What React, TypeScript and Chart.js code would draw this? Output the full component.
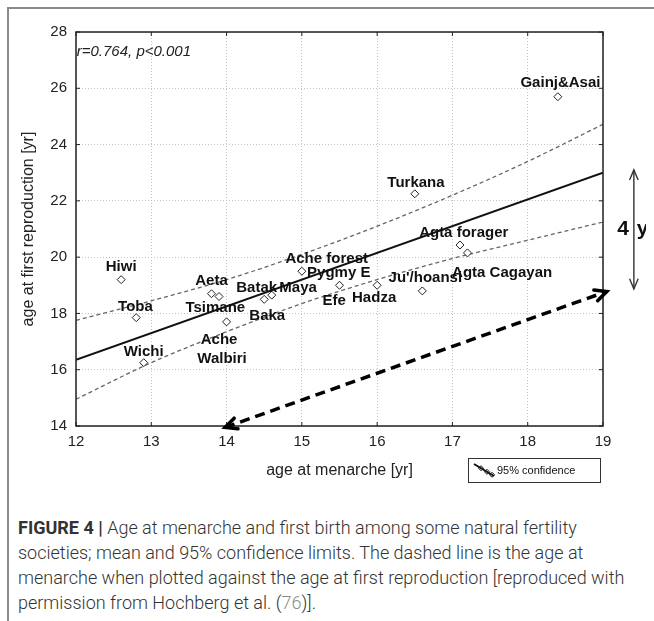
import React, { useEffect, useRef } from "react";
import { Chart, registerables } from "chart.js";

Chart.register(...registerables);

// ---- data ----
const menarcheAge = [18.4, 16.5, 12.6, 12.8, 12.9, 13.8, 13.9, 14.0, 14.5, 14.6, 15.0, 15.5, 16.0, 16.6, 17.1, 17.2];
const firstBirthAge = [25.7, 22.25, 19.2, 17.85, 16.25, 18.7, 18.6, 17.7, 18.5, 18.65, 19.5, 19.0, 19.0, 18.8, 20.43, 20.15];

const fitX = [12, 19];
const fitY = [16.35, 23.0];

const ciX = [12, 13, 14, 15, 16, 17, 18, 19];
const ciUpper = [17.75, 18.45, 19.2, 20.1, 21.1, 22.2, 23.4, 24.72];
const ciLower = [14.95, 16.25, 17.35, 18.35, 19.2, 19.95, 20.6, 21.25];

const labelNames = [
  "Gainj&Asai", "Turkana", "Hiwi", "Toba", "Wichi", "Aeta", "Tsimane", "Baka",
  "Batak", "Maya", "Ache", "Walbiri", "Ache forest", "Pygmy E", "Efe", "Hadza",
  "Ju'/hoansi", "Agta forager", "Agta Cagayan",
];
const labelX = [18.435, 16.516, 12.6, 12.79, 12.9, 13.8, 13.85, 14.54, 14.4, 14.95, 13.9, 13.94, 15.33, 15.49, 15.43, 15.96, 16.64, 17.15, 17.66];
const labelY = [26.19, 22.63, 19.65, 18.23, 16.63, 19.15, 18.19, 17.91, 18.9, 18.9, 17.05, 16.38, 19.93, 19.44, 18.44, 18.55, 19.26, 20.86, 19.44];

const xTickValues = [12, 13, 14, 15, 16, 17, 18, 19];
const yTickValues = [14, 16, 18, 20, 22, 24, 26, 28];

const statText = "r=0.764, p<0.001";
const statPos = [12.01, 27.3];

const menarcheArrowX = [13.98, 19.05];
const menarcheArrowY = [13.95, 18.78];

const spanArrowX = 19.41;
const spanArrowY = [18.87, 23.1];
const spanText = ["4", "y"];

const legendText = "95% confidence";
const xTitle = "age at menarche [yr]";
const yTitle = "age at first reproduction [yr]";

function arrowHead(ctx: CanvasRenderingContext2D, x: number, y: number, ang: number, len: number, spread: number) {
  ctx.beginPath();
  ctx.moveTo(x - len * Math.cos(ang - spread), y - len * Math.sin(ang - spread));
  ctx.lineTo(x, y);
  ctx.lineTo(x - len * Math.cos(ang + spread), y - len * Math.sin(ang + spread));
  ctx.stroke();
}

const annotPlugin = {
  id: "annot",
  afterDatasetsDraw(chart: any) {
    const { ctx, chartArea: a, scales } = chart;
    const xs = scales.x, ys = scales.y;
    ctx.save();
    // frame
    ctx.strokeStyle = "#222";
    ctx.lineWidth = 1.5;
    ctx.strokeRect(a.left, a.top, a.right - a.left, a.bottom - a.top);
    // inward ticks
    ctx.lineWidth = 1;
    xTickValues.forEach((v) => {
      const px = xs.getPixelForValue(v);
      ctx.beginPath();
      ctx.moveTo(px, a.bottom); ctx.lineTo(px, a.bottom - 4);
      ctx.moveTo(px, a.top); ctx.lineTo(px, a.top + 4);
      ctx.stroke();
    });
    yTickValues.forEach((v) => {
      const py = ys.getPixelForValue(v);
      ctx.beginPath();
      ctx.moveTo(a.left, py); ctx.lineTo(a.left + 4, py);
      ctx.moveTo(a.right, py); ctx.lineTo(a.right - 4, py);
      ctx.stroke();
    });
    // point labels
    ctx.fillStyle = "#111";
    ctx.font = "bold 15px 'Liberation Sans', Arial, sans-serif";
    ctx.textAlign = "center";
    ctx.textBaseline = "middle";
    labelNames.forEach((n, i) => {
      ctx.fillText(n, xs.getPixelForValue(labelX[i]), ys.getPixelForValue(labelY[i]));
    });
    // stat text
    ctx.font = "italic 15px 'Liberation Sans', Arial, sans-serif";
    ctx.textAlign = "left";
    ctx.fillStyle = "#222";
    ctx.fillText(statText, xs.getPixelForValue(statPos[0]), ys.getPixelForValue(statPos[1]));

    // dashed double arrow
    const x1 = xs.getPixelForValue(menarcheArrowX[0]), y1 = ys.getPixelForValue(menarcheArrowY[0]);
    const x2 = xs.getPixelForValue(menarcheArrowX[1]), y2 = ys.getPixelForValue(menarcheArrowY[1]);
    ctx.strokeStyle = "#000";
    ctx.lineWidth = 3.5;
    ctx.setLineDash([10, 6]);
    ctx.beginPath();
    ctx.moveTo(x1, y1); ctx.lineTo(x2, y2);
    ctx.stroke();
    ctx.setLineDash([]);
    const ang = Math.atan2(y2 - y1, x2 - x1);
    ctx.lineCap = "round";
    arrowHead(ctx, x2, y2, ang, 13, 0.45);
    arrowHead(ctx, x1, y1, ang + Math.PI, 13, 0.45);
    ctx.restore();

    // span arrow outside the plot
    ctx.save();
    const sx = xs.getPixelForValue(spanArrowX);
    const sy1 = ys.getPixelForValue(spanArrowY[0]);
    const sy2 = ys.getPixelForValue(spanArrowY[1]);
    ctx.strokeStyle = "#333";
    ctx.lineWidth = 1.4;
    ctx.beginPath();
    ctx.moveTo(sx, sy1); ctx.lineTo(sx, sy2);
    ctx.stroke();
    arrowHead(ctx, sx, sy2, -Math.PI / 2, 11, 0.4);
    arrowHead(ctx, sx, sy1, Math.PI / 2, 11, 0.4);
    ctx.fillStyle = "#111";
    ctx.font = "bold 21px 'Liberation Sans', Arial, sans-serif";
    ctx.textBaseline = "middle";
    const my = (sy1 + sy2) / 2;
    ctx.textAlign = "right";
    ctx.fillText(spanText[0], sx - 5, my);
    ctx.textAlign = "left";
    ctx.fillText(spanText[1], sx + 3, my);

    // legend box
    const lx = 460, ly = 450, lw = 132, lh = 24;
    ctx.strokeStyle = "#333";
    ctx.lineWidth = 1;
    ctx.strokeRect(lx + 0.5, ly + 0.5, lw, lh);
    ctx.strokeStyle = "#111";
    ctx.lineWidth = 2;
    ctx.beginPath();
    ctx.moveTo(lx + 6, ly + 6); ctx.lineTo(lx + 26, ly + 18);
    ctx.stroke();
    ctx.lineWidth = 1;
    [0.35, 0.65, 0.9].forEach((t) => {
      const px = lx + 6 + 20 * t, py = ly + 6 + 12 * t;
      ctx.beginPath();
      ctx.moveTo(px, py - 2.5); ctx.lineTo(px + 2.5, py); ctx.lineTo(px, py + 2.5); ctx.lineTo(px - 2.5, py); ctx.closePath();
      ctx.stroke();
    });
    ctx.fillStyle = "#111";
    ctx.font = "11px 'Liberation Sans', Arial, sans-serif";
    ctx.textAlign = "left";
    ctx.textBaseline = "middle";
    ctx.fillText(legendText, lx + 29, ly + lh / 2 + 1);
    ctx.restore();
  },
};

export default function App() {
  const ref = useRef<HTMLCanvasElement | null>(null);
  useEffect(() => {
    if (!ref.current) return;
    const pts = menarcheAge.map((x, i) => ({ x, y: firstBirthAge[i] }));
    const fit = fitX.map((x, i) => ({ x, y: fitY[i] }));
    const up = ciX.map((x, i) => ({ x, y: ciUpper[i] }));
    const lo = ciX.map((x, i) => ({ x, y: ciLower[i] }));
    const chart = new Chart(ref.current, {
      type: "scatter",
      data: {
        datasets: [
          {
            data: pts,
            pointStyle: "rectRot",
            pointRadius: 4,
            pointBackgroundColor: "#fff",
            pointBorderColor: "#222",
            pointBorderWidth: 1,
            order: 0,
          },
          {
            data: fit,
            showLine: true,
            pointRadius: 0,
            borderColor: "#111",
            borderWidth: 2,
            order: 1,
          },
          {
            data: up,
            showLine: true,
            pointRadius: 0,
            borderColor: "#666",
            borderWidth: 1.3,
            borderDash: [4, 3],
            cubicInterpolationMode: "monotone",
            order: 1,
          },
          {
            data: lo,
            showLine: true,
            pointRadius: 0,
            borderColor: "#666",
            borderWidth: 1.3,
            borderDash: [4, 3],
            cubicInterpolationMode: "monotone",
            order: 1,
          },
        ],
      } as any,
      options: {
        animation: false,
        responsive: false,
        maintainAspectRatio: false,
        layout: { padding: { left: 0, top: 24, right: 51, bottom: 0 } },
        plugins: { legend: { display: false }, tooltip: { enabled: false } },
        scales: {
          x: {
            type: "linear",
            min: 12,
            max: 19,
            afterFit: (s: any) => { s.height = 62; },
            afterBuildTicks: (s: any) => { s.ticks = xTickValues.map((v) => ({ value: v })); },
            ticks: { padding: 7, color: "#222", font: { family: "'Liberation Sans', Arial, sans-serif", size: 15 } },
            grid: { color: "#c4c4c4", lineWidth: 1, drawTicks: false },
            border: { display: false, dash: [1, 2] },
            title: {
              display: true,
              text: xTitle,
              color: "#222",
              font: { family: "'Liberation Sans', Arial, sans-serif", size: 16 },
              padding: { top: 0, bottom: 8 },
            },
          },
          y: {
            type: "linear",
            min: 14,
            max: 28,
            afterFit: (s: any) => { s.width = 68; },
            afterBuildTicks: (s: any) => { s.ticks = yTickValues.map((v) => ({ value: v })); },
            ticks: { padding: 9, color: "#222", font: { family: "'Liberation Sans', Arial, sans-serif", size: 15 } },
            grid: { color: "#c4c4c4", lineWidth: 1, drawTicks: false },
            border: { display: false, dash: [1, 2] },
            title: {
              display: true,
              text: yTitle,
              color: "#222",
              font: { family: "'Liberation Sans', Arial, sans-serif", size: 16 },
              padding: { top: 11, bottom: 0 },
            },
          },
        },
      },
      plugins: [annotPlugin],
    });
    return () => chart.destroy();
  }, []);

  const cap: React.CSSProperties = {
    position: "absolute",
    left: 10,
    top: 507,
    fontFamily: "Roboto, 'Liberation Sans', sans-serif",
    fontWeight: 300,
    fontSize: 18,
    lineHeight: "25px",
    color: "#333",
    whiteSpace: "nowrap",
  };

  return (
    <div style={{ position: "relative", width: 646, height: 605 }}>
      <div style={{ position: "fixed", left: 7, top: 8, width: 2, bottom: 0, background: "#8a8a8a" }} />
      <div style={{ position: "fixed", left: 7, top: 7, height: 2, right: 0, background: "#8a8a8a" }} />
      <canvas ref={ref} width={646} height={480} style={{ position: "absolute", left: 0, top: 0, width: 646, height: 480 }} />
      <div style={cap}>
        <span style={{ fontWeight: 700 }}>FIGURE 4 |</span> Age at menarche and first birth among some natural fertility
        <br />
        societies; mean and 95% confidence limits. The dashed line is the age at
        <br />
        menarche when plotted against the age at first reproduction [reproduced with
        <br />
        permission from Hochberg et al. (<span style={{ color: "#8c8c8c" }}>76</span>)].
      </div>
    </div>
  );
}
